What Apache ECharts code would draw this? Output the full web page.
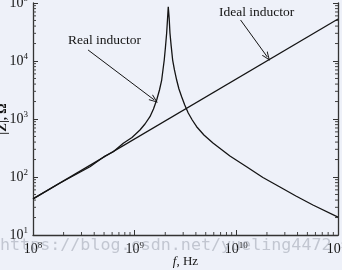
<!DOCTYPE html>
<html><head><meta charset="utf-8">
<script src="https://cdn.jsdelivr.net/npm/echarts@6/dist/echarts.min.js"></script>
<style>html,body{margin:0;padding:0;background:#eef1f9;}#c{width:342px;height:270px;}</style>
</head><body><div id="c"></div>
<script>
// Frequency (Hz) and impedance (Ohm)
const idealF = [1e8, 1e11];
const idealZ = [42, 53000];
const realF = [1e8, 1.844e8, 3.635e8, 5.105e8, 6.16e8, 7.73e8, 9.41e8, 1.127e9, 1.263e9, 1.414e9, 1.531e9,
               1.646e9, 1.754e9, 1.844e9, 1.898e9, 1.954e9, 2.009e9, 2.064e9, 2.102e9, 2.140e9,
               2.184e9, 2.224e9, 2.286e9, 2.364e9, 2.462e9, 2.588e9, 2.727e9, 2.898e9, 3.109e9, 3.365e9,
               3.685e9, 4.07e9, 4.80e9, 5.89e9, 8.65e9, 1.272e10, 1.826e10, 2.684e10, 3.855e10, 5.666e10, 1e11];
const realZ = [42, 78.8, 150.5, 230, 273, 381, 480, 646, 820, 1096, 1486,
               2128, 3162, 4700, 7000, 10400, 17400, 30400, 50900, 86300,
               55100, 30400, 18200, 10400, 7000, 4700, 3290, 2424, 1742, 1268,
               961, 736, 530, 385, 230, 149, 98, 67.2, 47, 32.9, 20.4];
const xTicks = [1e8, 1e9, 1e10, 1e11];
const yTicks = [1e1, 1e2, 1e3, 1e4, 1e5];
const minorSteps = [2, 3, 4, 5, 6, 7, 8, 9];
const realArrow = [[3.48e8, 15500], [1.56e9, 2130]];
const idealArrow = [[1.1e10, 51000], [2.02e10, 11700]];

const serif = 'Liberation Serif';
const ink = '#141414';
function expLabel(v) {
  const n = Math.round(Math.log10(v));
  return '{b|10}{e|' + n + '}';
}
const rich = {
  b: {fontFamily: serif, fontSize: 14, color: ink},
  e: {fontFamily: serif, fontSize: 9, color: ink, padding: [0, 0, 8, 0]}
};
const chevron = 'path://M0,10 L5,0 L10,10 L8.6,10 L5,2.8 L1.4,10 Z';

// minor tick positions on the three drawn axes
const minorData = [];
xTicks.slice(0, -1).forEach(d => minorSteps.forEach(m => minorData.push([d * m, yTicks[0], 0])));
yTicks.slice(0, -1).forEach(d => minorSteps.forEach(m => {
  minorData.push([xTicks[0], d * m, 1]);
  minorData.push([xTicks[xTicks.length - 1], d * m, 2]);
}));

const axisCommon = {
  nameMoveOverlap: false,
  axisLine: {show: true, lineStyle: {color: '#333', width: 1.3}},
  axisTick: {show: true, inside: true, length: 5, lineStyle: {color: '#333'}},
  splitLine: {show: false}
};

const chart = echarts.init(document.getElementById('c'), null, {renderer: 'canvas'});
chart.setOption({
  backgroundColor: '#eef1f9',
  animation: false,
  grid: {left: 33, right: 4, top: 3, bottom: 35, containLabel: false, outerBoundsMode: 'none'},
  xAxis: Object.assign({
    type: 'log', logBase: 10, min: xTicks[0], max: xTicks[xTicks.length - 1],
    name: '{i|f}{n|, Hz}', nameLocation: 'middle', nameGap: 20,
    nameTextStyle: {rich: {i: {fontFamily: serif, fontStyle: 'italic', fontSize: 13, color: ink},
                           n: {fontFamily: serif, fontSize: 13, color: ink}}},
    axisLabel: {formatter: expLabel, rich: rich, margin: 6}
  }, axisCommon),
  yAxis: [Object.assign({
    type: 'log', logBase: 10, min: yTicks[0], max: yTicks[yTicks.length - 1],
    name: '|Z|, Ω', nameLocation: 'middle', nameGap: 24, nameRotate: 90,
    nameTextStyle: {fontFamily: serif, fontSize: 13, fontWeight: 'bold', color: ink},
    axisLabel: {formatter: expLabel, rich: rich, margin: 5}
  }, axisCommon), Object.assign({
    type: 'log', logBase: 10, min: yTicks[0], max: yTicks[yTicks.length - 1], position: 'right',
    axisLabel: {show: false}
  }, axisCommon)],
  series: [{
    type: 'line', name: 'Ideal inductor', showSymbol: false,
    data: idealF.map((f, i) => [f, idealZ[i]]),
    lineStyle: {color: ink, width: 1.3},
    markLine: {
      silent: true, symbol: ['none', chevron], symbolSize: [7, 9],
      lineStyle: {color: ink, width: 1, type: 'solid'}, label: {show: false},
      data: [
        [{coord: realArrow[0]}, {coord: realArrow[1]}],
        [{coord: idealArrow[0]}, {coord: idealArrow[1]}]
      ]
    }
  }, {
    type: 'line', name: 'Real inductor', showSymbol: false,
    data: realF.map((f, i) => [f, realZ[i]]),
    lineStyle: {color: ink, width: 1.3}
  }, {
    type: 'custom', name: 'minor ticks', silent: true, clip: false,
    encode: {x: 0, y: 1},
    data: minorData,
    renderItem: function (params, api) {
      const p = api.coord([api.value(0), api.value(1)]);
      const k = api.value(2);
      let s;
      if (k === 0) s = {x1: p[0], y1: p[1], x2: p[0], y2: p[1] - 3};
      else if (k === 1) s = {x1: p[0], y1: p[1], x2: p[0] + 3, y2: p[1]};
      else s = {x1: p[0], y1: p[1], x2: p[0] - 3, y2: p[1]};
      return {type: 'line', shape: s, style: {stroke: '#444', lineWidth: 1}};
    }
  }],
  graphic: [
    {type: 'text', left: 68, top: 33, style: {text: 'Real inductor', font: '13.5px "Liberation Serif"', fill: ink}},
    {type: 'text', left: 219, top: 5, style: {text: 'Ideal inductor', font: '13.5px "Liberation Serif"', fill: ink}},
    {type: 'text', left: 0, top: 237, silent: true, z: 100,
     style: {text: 'https://blog.csdn.net/yueling4472', font: '16.7px "DejaVu Sans Mono"', fill: 'rgba(140,146,160,0.45)'}}
  ]
});
</script></body></html>
